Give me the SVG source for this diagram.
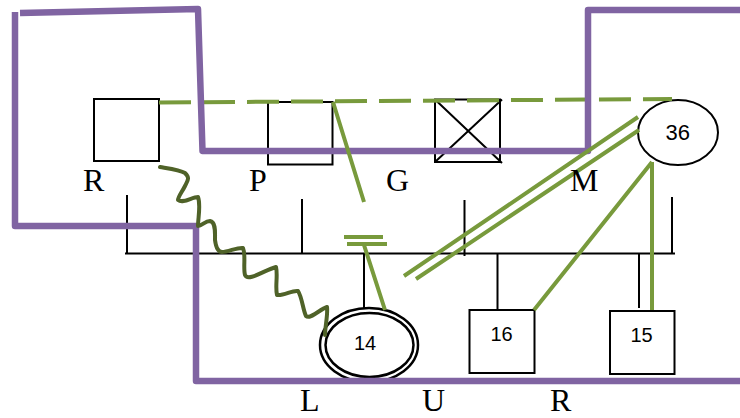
<svg xmlns="http://www.w3.org/2000/svg" width="740" height="418" viewBox="0 0 740 418">
<style>
.k{fill:none;stroke:#000;stroke-width:2}
.b{fill:#fff;stroke:#000;stroke-width:2}
.e{fill:#fff;stroke:#000;stroke-width:2.500}
.g{fill:none;stroke:#789a3c;stroke-width:4}
.p{fill:none;stroke:#8064a2;stroke-width:6.500;stroke-linejoin:round}
.w{fill:none;stroke:#4f6228;stroke-width:4;stroke-linejoin:round;stroke-linecap:round}
.s{font-family:"Liberation Serif",serif;font-size:32px;fill:#000}
.n{font-family:"Liberation Sans",sans-serif;font-size:20px;fill:#000}
</style>
<rect width="740" height="418" fill="#fff"/>
<g id="bus" class="k">
<path d="M125 253.500H675M127 195V253M302 199V253M464.500 200V256M672 197V253M364 253V308M497.500 253V310M639 253V308"/>
</g>
<g id="node-r"><rect class="b" x="94" y="99" width="65" height="62"/></g>
<g id="node-p"><rect class="b" x="268" y="102" width="64.500" height="62.500"/></g>
<g id="node-g"><rect class="b" x="435" y="99.500" width="65" height="62.500"/><path class="k" d="M435 99.500L502 163M502 99.500L435 162"/></g>
<g id="node-36"><ellipse class="b" cx="678" cy="132.500" rx="40" ry="32.500"/><text class="n" x="665.500" y="140" style="font-size:22px">36</text></g>
<g id="node-14"><ellipse class="e" cx="369" cy="345" rx="49" ry="37"/><ellipse class="e" cx="369.500" cy="345" rx="44" ry="32"/><text class="n" x="354" y="350">14</text></g>
<g id="node-16"><rect class="b" x="469.500" y="310" width="65" height="63"/><text class="n" x="490.500" y="341">16</text></g>
<g id="node-15"><rect class="b" x="610" y="311" width="64.500" height="63"/><text class="n" x="630.500" y="342">15</text></g>
<g id="connectors">
<path class="g" d="M159 102.500L672 99" stroke-dasharray="32 12"/>
<path class="p" d="M15 12V226H196V381H740"/>
<path class="p" d="M20 13L198 9L202.500 151H588V10H740"/>
<path class="g" d="M333 102L364 202M344 237H383M347 244H387M364 245L385 310M638 117L404 276M639 130L416 279M652 162L534 310M652 162V310"/>
<path class="w" d="M160 167C172 169 180 170 185 173C190 178 188 180 185 186C182 192 178 197 178 200C183 204 192 197 198 197C201 205 198 218 198 226C202 226 205 221 210 221C216 222 215 232 215 240C216 248 218 252 222 252C228 252 238 247 243 248C246 255 243 268 245 275C248 282 265 270 276 267C278 275 275 287 277 295C284 296 292 290 298 291C302 297 303 310 306 316C310 320 320 309 327 307C328 315 325 327 325 335"/>
</g>
<g id="labels">
<text class="s" x="83" y="191">R</text>
<text class="s" x="249" y="191">P</text>
<text class="s" x="386" y="191">G</text>
<text class="s" x="570" y="191">M</text>
<text class="s" x="300" y="411">L</text>
<text class="s" x="422" y="411">U</text>
<text class="s" x="550" y="411">R</text>
</g>
</svg>
